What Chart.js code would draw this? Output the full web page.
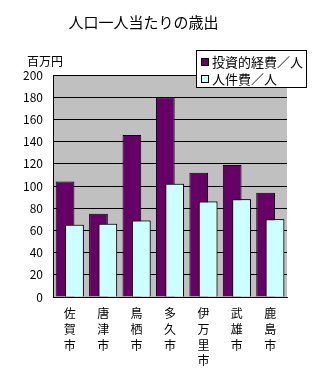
<!DOCTYPE html>
<html>
<head>
<meta charset="utf-8">
<script src="https://cdn.jsdelivr.net/npm/chart.js@4"></script>
<style>
  body { margin: 0; background: #fff; }
  #wrap { width: 321px; height: 377px; position: relative; }
</style>
</head>
<body>
<div id="wrap"><canvas id="barChart"></canvas></div>
<script>
var categories = ['佐賀市', '唐津市', '鳥栖市', '多久市', '伊万里市', '武雄市', '鹿島市'];
var investment = [104, 75, 146, 180, 112, 119, 94];
var personnel = [65, 66, 69, 102, 86, 88, 70];
var yTicks = [0, 20, 40, 60, 80, 100, 120, 140, 160, 180, 200];
var seriesNames = ['投資的経費／人', '人件費／人'];
var unitLabel = '百万円';

var FONT = "'Noto Sans CJK JP', sans-serif";

// gray plot background
var plotBg = {
    id: 'plotBg',
    beforeDraw: function(chart) {
        var a = chart.chartArea, ctx = chart.ctx;
        ctx.save();
        ctx.fillStyle = '#c0c0c0';
        ctx.fillRect(a.left, a.top, a.right - a.left, a.bottom - a.top);
        ctx.restore();
    }
};

// cyan bars sit on top of the purple ones (Excel overlap)
var overlap = {
    id: 'overlap',
    afterDatasetsDraw: function(chart) {
        var meta = chart.getDatasetMeta(1);
        meta.data.forEach(function(bar) { bar.draw(chart.ctx); });
    }
};

// unit label and boxed legend
var extras = {
    id: 'extras',
    afterDraw: function(chart) {
        var ctx = chart.ctx;
        ctx.save();
        ctx.fillStyle = '#000';
        ctx.font = '12px ' + FONT;
        ctx.textBaseline = 'middle';
        ctx.textAlign = 'left';
        ctx.fillText(unitLabel, 27, 61);

        var bx = 196.5, by = 50.5, bw = 110, bh = 37;
        ctx.fillStyle = '#fff';
        ctx.fillRect(bx, by, bw, bh);
        ctx.strokeStyle = '#000';
        ctx.lineWidth = 1;
        ctx.strokeRect(bx, by, bw, bh);
        ctx.font = '13px ' + FONT;
        chart.data.datasets.forEach(function(ds, i) {
            var cy = 62 + i * 17;
            ctx.fillStyle = ds.backgroundColor;
            ctx.fillRect(201.5, cy - 3.5, 7, 7);
            ctx.strokeStyle = '#000';
            ctx.strokeRect(201.5, cy - 3.5, 7, 7);
            ctx.fillStyle = '#000';
            ctx.fillText(ds.label, 212, cy);
        });
        ctx.restore();
    }
};

var ctx = document.getElementById('barChart').getContext('2d');
var myChart = new Chart(ctx, {
    type: 'bar',
    data: {
        labels: categories,
        datasets: [{
            label: seriesNames[0],
            data: investment,
            backgroundColor: '#660066',
            borderColor: '#000',
            borderWidth: 1
        }, {
            label: seriesNames[1],
            data: personnel,
            backgroundColor: '#ccffff',
            borderColor: '#000',
            borderWidth: 1
        }]
    },
    options: {
        responsive: true,
        maintainAspectRatio: false,
        animation: false,
        categoryPercentage: 0.56,
        barPercentage: 2.0,
        layout: { padding: { left: 0, right: 34, top: 0, bottom: 0 } },
        plugins: {
            legend: { display: false },
            tooltip: { enabled: false },
            title: {
                display: true,
                text: '人口一人当たりの歳出',
                color: '#000',
                font: { family: FONT, size: 15, weight: 'normal', lineHeight: 1.2 },
                padding: { top: 13, bottom: 44 }
            }
        },
        scales: {
            x: {
                grid: { display: false },
                border: { display: true, color: '#000' },
                ticks: {
                    color: '#000',
                    font: { family: FONT, size: 12, lineHeight: 1.3 },
                    padding: 1,
                    maxRotation: 0,
                    autoSkip: false,
                    callback: function(value, index) {
                        return categories[index].split('');
                    }
                },
                afterFit: function(scale) { scale.height = 80; }
            },
            y: {
                min: 0,
                max: 200,
                afterBuildTicks: function(scale) {
                    scale.ticks = yTicks.map(function(v) { return { value: v }; });
                },
                grid: { color: '#000', lineWidth: 1, drawTicks: false },
                border: { display: true, color: '#000' },
                ticks: {
                    color: '#000',
                    font: { family: FONT, size: 12 },
                    padding: 10
                },
                afterFit: function(scale) { scale.width = 53; }
            }
        }
    },
    plugins: [plotBg, overlap, extras]
});
</script>
</body>
</html>
